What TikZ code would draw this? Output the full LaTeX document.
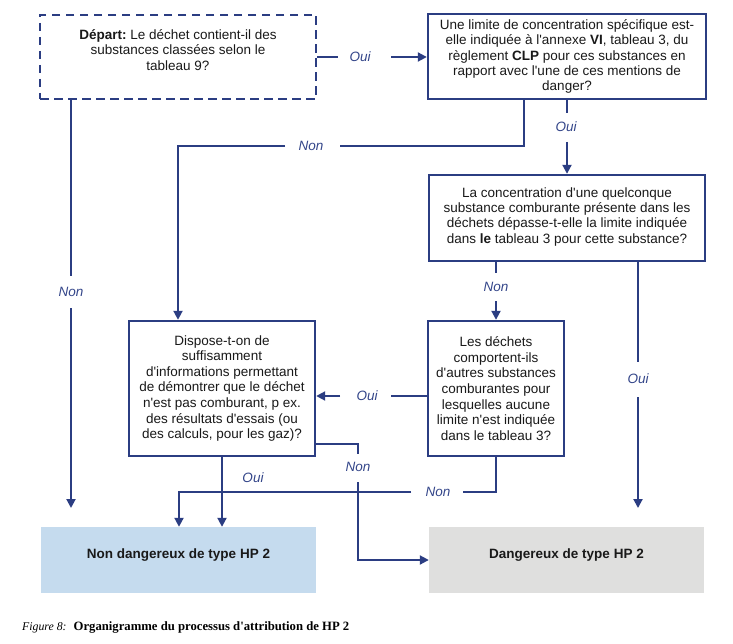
\documentclass[tikz,border=0pt]{standalone}
\usepackage{fontspec}
\setmainfont{Liberation Sans}[Ligatures=TeXOff]
\newfontfamily\capfont{Liberation Serif}
\usetikzlibrary{arrows.meta,calc}
\definecolor{lineblue}{HTML}{2B3D82}
\definecolor{labblue}{HTML}{34468A}
\definecolor{fillblue}{HTML}{C5DBEE}
\definecolor{fillgray}{HTML}{DFDFDE}
\frenchspacing
\begin{document}
\begin{tikzpicture}[x=1pt,y=-1pt,
  box/.style={draw=lineblue,line width=2.4pt,align=center,inner sep=0pt,text=black!90,font=\fontsize{13.5}{15.2}\selectfont},
  tallbox/.style={box,font=\fontsize{13.5}{15.6}\selectfont},
  startbox/.style={box,font=\fontsize{13.5}{15.6}\selectfont,dash pattern=on 8.5pt off 5.5pt},
  endbox/.style={draw=none,align=center,inner sep=0pt,text=black!90,font=\bfseries\fontsize{13.5}{15}\selectfont},
  lab/.style={inner sep=0pt,text=labblue,font=\itshape\fontsize{13.5}{15}\selectfont},
  conn/.style={draw=lineblue,line width=2pt},
  arr/.style={conn,-{Triangle[length=9pt,width=9pt]}}]
\useasboundingbox (0,0) rectangle (733,644);
\fill[white] (0,0) rectangle (733,644);

% boxes
\node[startbox,minimum width=276pt,minimum height=84pt] (A) at (178,57)
  {\textbf{Départ:} Le déchet contient-il des\\substances classées selon le\\tableau 9?\\[-1.5pt]\mbox{}};
\node[box,minimum width=278pt,minimum height=85pt] (B) at (567,56.5)
  {Une limite de concentration spécifique est-\\elle indiquée à l'annexe \textbf{VI}, tableau 3, du\\règlement \textbf{CLP} pour ces substances en\\rapport avec l'une de ces mentions de\\danger?};
\node[box,minimum width=276pt,minimum height=86pt] (C) at (567,218)
  {La concentration d'une quelconque\\substance comburante présente dans les\\déchets dépasse-t-elle la limite indiquée\\dans \textbf{le} tableau 3 pour cette substance?\\[-10pt]\mbox{}};
\node[tallbox,minimum width=186pt,minimum height=135pt] (D) at (222,388.5)
  {Dispose-t-on de\\suffisamment\\d'informations permettant\\de démontrer que le déchet\\n'est pas comburant, p ex.\\des résultats d'essais (ou\\des calculs, pour les gaz)?};
\node[tallbox,minimum width=136pt,minimum height=135pt] (E) at (496,388.5)
  {Les déchets\\comportent-ils\\d'autres substances\\comburantes pour\\lesquelles aucune\\limite n'est indiquée\\dans le tableau 3?};
\node[endbox,fill=fillblue,minimum width=275pt,minimum height=66pt] (N) at (178.5,560) {Non dangereux de type HP 2\\[-3pt]\mbox{}};
\node[endbox,fill=fillgray,minimum width=275pt,minimum height=66pt] (G) at (566.5,560) {Dangereux de type HP 2\\[-3pt]\mbox{}};

% labels
\node[lab] (lAB) at (360,57) {Oui};
\node[lab] (lAN) at (71,292) {Non};
\node[lab] (lBD) at (311,146) {Non};
\node[lab] (lBC) at (566,127) {Oui};
\node[lab] (lCE) at (496,287) {Non};
\node[lab] (lCG) at (638,379) {Oui};
\node[lab] (lED) at (367,396) {Oui};
\node[lab] (lDG) at (358,467) {Non};
\node[lab] (lDN) at (253,478) {Oui};
\node[lab] (lEN) at (438,492) {Non};

% coordinates
\coordinate (a1) at (338,57);  \coordinate (a2) at (391,57);
\coordinate (na1) at (71,276); \coordinate (na2) at (71,308); \coordinate (na3) at (71,508);
\coordinate (nb1) at (524,146); \coordinate (nb2) at (340,146); \coordinate (nb3) at (285,146); \coordinate (nb4) at (178,146);
\coordinate (ob1) at (567,113); \coordinate (ob2) at (567,142);
\coordinate (nc1) at (496,273); \coordinate (nc2) at (496,301);
\coordinate (oc1) at (638,362); \coordinate (oc2) at (638,397); \coordinate (oc3) at (638,508);
\coordinate (oe1) at (391,396); \coordinate (oe2) at (340,396);
\coordinate (nd1) at (358,444); \coordinate (nd2) at (358,454); \coordinate (nd3) at (358,482);
\coordinate (ne1) at (496,492); \coordinate (ne2) at (463,492); \coordinate (ne3) at (411,492); \coordinate (ne4) at (179,492);

% connectors
\draw[conn] (A.east) -- (a1);
\draw[arr] (a2) -- (B.west |- a2);
\draw[conn] (A.south -| na1) -- (na1);
\draw[arr] (na2) -- (na3);
\draw[conn] (B.south -| nb1) -- (nb1) -- (nb2);
\draw[arr] (nb3) -- (nb4) -- (D.north -| nb4);
\draw[conn] (B.south -| ob1) -- (ob1);
\draw[arr] (ob2) -- (C.north -| ob2);
\draw[conn] (C.south -| nc1) -- (nc1);
\draw[arr] (nc2) -- (E.north -| nc2);
\draw[conn] (C.south -| oc1) -- (oc1);
\draw[arr] (oc2) -- (oc3);
\draw[conn] (E.west |- oe1) -- (oe1);
\draw[arr] (oe2) -- (D.east |- oe2);
\draw[conn] (D.east |- nd1) -- (nd1) -- (nd2);
\draw[arr] (nd3) |- (G.west);
\draw[arr] (D.south) -- (N.north -| D.south);
\draw[conn] (E.south -| ne1) -- (ne1) -- (ne2);
\draw[arr] (ne3) -- (ne4) -- (N.north -| ne4);

% caption
\node[anchor=west,inner sep=0pt,text=black,font=\capfont\fontsize{12.7}{14}\selectfont] (cap) at (22,627)
  {{\fontsize{11.8}{14}\selectfont\textit{Figure 8:}}\hspace{7pt}\textbf{Organigramme du processus d'attribution de HP 2}};
\end{tikzpicture}
\end{document}
